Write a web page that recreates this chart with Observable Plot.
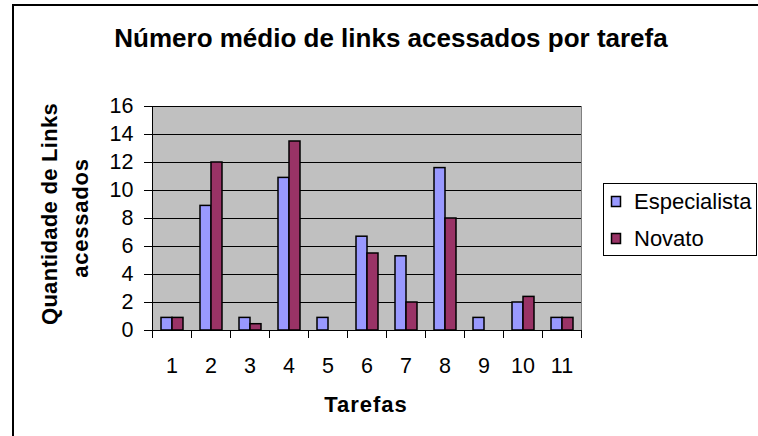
<!DOCTYPE html>
<html>
<head>
<meta charset="utf-8">
<script src="https://cdn.jsdelivr.net/npm/d3@7"></script>
<script src="https://cdn.jsdelivr.net/npm/@observablehq/plot@0.6"></script>
<style>
  html, body { margin: 0; padding: 0; background: #fff; }
  #wrap { position: relative; width: 758px; height: 436px; overflow: hidden; background: #fff;
          font-family: "Liberation Sans", Arial, sans-serif; }
  #border { position: absolute; left: 12px; top: 4px; width: 900px; height: 600px; border: 2px solid #000; }
  #chart { position: absolute; left: 0; top: 0; }
  #ann { position: absolute; left: 0; top: 0; pointer-events: none; }
</style>
</head>
<body>
<div id="wrap">
  <div id="border"></div>
  <div id="chart"></div>
</div>
<script>
// ---- data ----
const tarefas = ["1", "2", "3", "4", "5", "6", "7", "8", "9", "10", "11"];
const series = ["Especialista", "Novato"];
const especialista = [0.9, 8.9, 0.9, 10.9, 0.9, 6.7, 5.3, 11.6, 0.9, 2, 0.9];
const novato = [0.9, 12, 0.45, 13.5, 0, 5.5, 2, 8, 0, 2.4, 0.9];
const yTicks = [0, 2, 4, 6, 8, 10, 12, 14, 16];
const seriesColors = ["#9999FF", "#993366"];
const titleText = "Número médio de links acessados por tarefa";
const yTitle = ["Quantidade de Links", "acessados"];
const xTitle = "Tarefas";

const rows = tarefas.flatMap((t, i) => [
  {tarefa: t, serie: series[0], valor: especialista[i]},
  {tarefa: t, serie: series[1], valor: novato[i]}
]);

const W = 758, H = 436;
const mTop = 106, mBottom = 106, mLeft = 147, mRight = 172;
const plotH = H - mTop - mBottom;

const chart = Plot.plot({
  width: W,
  height: H,
  marginTop: mTop,
  marginBottom: mBottom,
  marginLeft: mLeft,
  marginRight: mRight,
  style: {
    fontFamily: '"Liberation Sans", Arial, sans-serif',
    fontSize: "21.5px",
    color: "#000",
    background: "transparent",
    overflow: "visible"
  },
  fx: {domain: tarefas, padding: 0, label: null},
  x: {domain: series, paddingInner: 0, paddingOuter: 0.7, axis: null},
  y: {domain: [0, 16], label: null},
  color: {domain: series, range: seriesColors},
  marks: [
    Plot.frame({fill: "#C0C0C0", stroke: "none", shapeRendering: "crispEdges"}),
    Plot.gridY(yTicks, {stroke: "#000", strokeOpacity: 1, strokeWidth: 1, shapeRendering: "crispEdges"}),
    Plot.frame({anchor: "right", facetAnchor: "right", stroke: "#808080", shapeRendering: "crispEdges"}),
    Plot.frame({anchor: "left", facetAnchor: "left", stroke: "#000", shapeRendering: "crispEdges"}),
    Plot.frame({anchor: "left", stroke: "#000", insetTop: plotH, insetBottom: -7, shapeRendering: "crispEdges"}),
    Plot.frame({anchor: "right", facetAnchor: "right", stroke: "#000", insetTop: plotH, insetBottom: -7, shapeRendering: "crispEdges"}),
    Plot.barY(rows, {fx: "tarefa", x: "serie", y: "valor", fill: "serie", stroke: "#000", strokeWidth: 1.5, inset: 0}),
    Plot.axisY({ticks: yTicks, tickSize: 8, tickPadding: 11, label: null, stroke: "#000", fill: "#000"}),
    Plot.axisFx({anchor: "bottom", tickSize: 0, tickPadding: 27, label: null, fill: "#000"})
  ]
});
document.getElementById("chart").appendChild(chart);

// ---- annotations: title, axis titles, legend ----
const ann = d3.select("#wrap").append("svg")
  .attr("id", "ann").attr("width", W).attr("height", H)
  .style("font-family", '"Liberation Sans", Arial, sans-serif');

ann.append("text").attr("x", 391).attr("y", 47).attr("text-anchor", "middle")
  .attr("font-size", 26).attr("font-weight", "bold").text(titleText);

ann.append("text").attr("transform", "translate(57,214) rotate(-90)").attr("text-anchor", "middle")
  .attr("font-size", 22).attr("font-weight", "bold").attr("letter-spacing", 0.3).text(yTitle[0]);
ann.append("text").attr("transform", "translate(88,218) rotate(-90)").attr("text-anchor", "middle")
  .attr("font-size", 22).attr("font-weight", "bold").attr("letter-spacing", 0.8).text(yTitle[1]);

ann.append("text").attr("x", 366).attr("y", 412).attr("text-anchor", "middle")
  .attr("font-size", 22).attr("font-weight", "bold").attr("letter-spacing", 1).text(xTitle);

const lg = ann.append("g");
lg.append("rect").attr("x", 603.5).attr("y", 183.5).attr("width", 153).attr("height", 72)
  .attr("fill", "#fff").attr("stroke", "#000").attr("stroke-width", 1);
series.forEach((s, i) => {
  const y0 = 196.5 + i * 37;
  lg.append("rect").attr("x", 611.5).attr("y", y0).attr("width", 9).attr("height", 10)
    .attr("fill", seriesColors[i]).attr("stroke", "#000").attr("stroke-width", 1.5);
  lg.append("text").attr("x", 634).attr("y", 209 + i * 37).attr("font-size", 22).text(s);
});
</script>
</body>
</html>
